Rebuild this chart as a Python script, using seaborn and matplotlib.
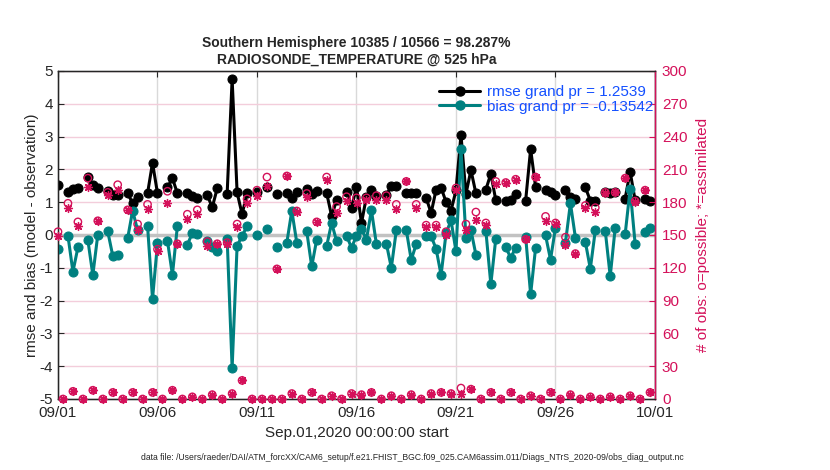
import numpy as np
import pandas as pd
import seaborn as sns
import matplotlib
matplotlib.use("Agg")
import matplotlib.pyplot as plt
import matplotlib.dates as mdates
from matplotlib.lines import Line2D

nan = np.nan

# 6-hourly bins, 09/01 00Z .. 09/30 18Z
rmse = [1.52, nan, 1.32, 1.39, 1.44, nan, 1.76, 1.52, 1.44, nan, 1.34, 1.22,
        1.22, nan, 1.27, 0.97, 1.17, nan, 1.27, 2.20, 1.27, nan, 1.45, 1.73,
        1.27, nan, 1.28, 1.20, 1.14, nan, 1.22, 0.84, 1.42, nan, 1.26, 4.75,
        1.30, 0.63, 1.27, nan, 1.30, nan, 1.47, nan, 1.24, nan, 1.27, 1.12,
        1.30, nan, 1.41, 1.26, 1.35, nan, 1.28, 0.58, 1.06, nan, 1.32, 0.83,
        1.47, 0.36, 1.17, 1.37, 1.20, nan, 1.22, 1.49, 1.48, nan, 1.28, 1.28,
        1.28, nan, 1.13, 0.67, 1.38, 1.44, 1.01, 0.74, 1.36, 3.05, 1.25, 1.98,
        1.27, nan, 1.38, 1.87, 1.06, nan, 1.03, 1.07, 1.26, nan, 1.05, 2.62,
        1.46, nan, 1.37, 1.32, 1.21, nan, 1.38, 1.17, 1.09, nan, 1.45, 1.05,
        1.05, nan, 1.30, 1.29, 1.30, nan, 1.11, 1.93, 1.06, nan, 1.11, 1.04]

bias = [-0.44, nan, -0.02, -1.12, -0.38, nan, -0.15, -1.22, 0.01, nan, 0.11, -0.63,
        -0.61, nan, -0.10, 0.74, 0.15, nan, 0.28, -1.95, -0.25, nan, -0.17, -1.22,
        0.28, nan, -0.30, 0.06, 0.03, nan, -0.18, -0.38, -0.50, nan, -0.11, -4.05,
        -0.33, -0.03, 0.27, nan, 0.01, nan, 0.18, nan, -0.38, nan, -0.23, 0.74,
        -0.24, nan, 0.11, -0.96, -0.14, nan, -0.34, 0.37, -0.19, nan, -0.02, -0.39,
        -0.02, 0.19, -0.14, 0.76, -0.28, nan, -0.26, -1.00, 0.14, nan, 0.16, -0.76,
        -0.28, nan, -0.02, -0.04, -0.42, -1.22, 0.05, 0.45, -0.50, 2.62, -0.08, 0.15,
        -0.60, nan, 0.13, -1.50, -0.11, nan, -0.38, -0.69, -0.39, nan, -0.05, -1.81,
        -0.39, nan, -0.01, -0.75, 0.22, nan, -0.24, 0.97, -0.08, nan, -0.21, -1.03,
        0.14, nan, 0.13, -1.26, 0.22, nan, 0.02, 1.40, -0.26, nan, 0.09, 0.22]

n_poss = [153, 0, 179, 7, 162, 0, 202, 8, 163, 0, 189, 6,
          196, 0, 173, 6, 160, 0, 178, 6, 137, 0, 190, 8,
          142, 0, 169, 2, 173, 0, 144, 4, 142, 0, 143, 5,
          160, 17, 183, 0, 191, 0, 203, 0, 119, 0, 204, 5,
          172, 0, 188, 6, 162, 0, 203, 3, 176, 0, 185, 5,
          184, 4, 184, 6, 186, 0, 186, 3, 178, 0, 199, 4,
          178, 0, 159, 5, 159, 6, 153, 5, 193, 10, 160, 9,
          171, 0, 161, 6, 199, 0, 198, 6, 201, 0, 146, 3,
          203, 0, 167, 6, 161, 0, 148, 4, 133, 0, 177, 2,
          175, 0, 189, 2, 189, 0, 202, 3, 181, 0, 191, 6]

n_used = [149, 0, 175, 7, 158, 0, 194, 8, 163, 0, 187, 6,
          191, 0, 173, 6, 155, 0, 174, 6, 135, 0, 179, 8,
          142, 0, 165, 2, 169, 0, 140, 4, 142, 0, 142, 5,
          157, 17, 179, 0, 186, 0, 195, 0, 119, 0, 204, 5,
          171, 0, 185, 6, 162, 0, 200, 3, 170, 0, 181, 5,
          179, 4, 182, 6, 182, 0, 182, 3, 174, 0, 199, 4,
          175, 0, 157, 5, 157, 6, 150, 5, 191, 5, 155, 9,
          164, 0, 159, 6, 197, 0, 198, 6, 200, 0, 146, 3,
          203, 0, 163, 6, 160, 0, 141, 4, 133, 0, 175, 2,
          171, 0, 188, 2, 189, 0, 202, 3, 180, 0, 191, 6]

tick_days = [1, 6, 11, 16, 21, 26]

df = pd.DataFrame({
    "time": pd.date_range("2020-09-01", periods=len(rmse), freq="6h"),
    "rmse": rmse, "bias": bias, "possible": n_poss, "assimilated": n_used,
})
df["seg"] = df["rmse"].isna().cumsum()   # break the lines where there is no data

teal = "#008080"
crimson = "#d4115a"
blue = "#1450ff"

sns.set_style("white")
plt.rcParams["font.family"] = ["Liberation Sans", "DejaVu Sans"]
plt.rcParams["axes.unicode_minus"] = False

fig = plt.figure(figsize=(8.3, 4.7), dpi=100)
ax = fig.add_axes([58 / 830, 1 - 399 / 470, 597 / 830, 328 / 470])

ax.axhline(0, color="#c2c2c2", lw=2.5, zorder=1.5)
sns.lineplot(data=df, x="time", y="rmse", units="seg", estimator=None, ax=ax,
             color="black", marker="o", markersize=6.5, markeredgecolor="black",
             linewidth=2.2, zorder=3)
sns.lineplot(data=df, x="time", y="bias", units="seg", estimator=None, ax=ax,
             color=teal, marker="o", markersize=6.5, markeredgecolor=teal,
             linewidth=2.2, zorder=3)

ax.set_xlim(pd.Timestamp("2020-09-01"), pd.Timestamp("2020-10-01"))
ax.set_ylim(-5, 5)
ax.set_yticks(range(-5, 6))
ax.xaxis.set_major_locator(mdates.DayLocator(bymonthday=tick_days))
ax.xaxis.set_major_formatter(mdates.DateFormatter("%m/%d"))
ax.set_axisbelow(True)
ax.yaxis.grid(True, color="#f3cddb", lw=1)
ax.xaxis.grid(True, color="#d9d9d9", lw=1)
ax.tick_params(direction="in", top=True, right=False, length=4, labelsize=11, pad=5)
ax.tick_params(axis="y", pad=3.5)
for s in ax.spines.values():
    s.set_color("black")
    s.set_linewidth(1)
ax.set_xlabel("Sep.01,2020 00:00:00 start", fontsize=11, labelpad=4)
ax.set_ylabel("rmse and bias (model - observation)", fontsize=11, labelpad=0.5)
ax.set_title("Southern Hemisphere 10385 / 10566 = 98.287%\nRADIOSONDE_TEMPERATURE @ 525 hPa",
             fontsize=10, fontweight="bold", pad=5, linespacing=1.25)

ax2 = ax.twinx()
sns.scatterplot(data=df, x="time", y="possible", ax=ax2, marker="o", s=28,
                facecolor="none", edgecolor=crimson, linewidth=1, clip_on=False, zorder=4)
sns.scatterplot(data=df, x="time", y="assimilated", ax=ax2, marker=(8, 2, 0), s=32,
                color=crimson, edgecolor=crimson, linewidth=1, clip_on=False, zorder=4)
ax2.set_ylim(0, 300)
ax2.set_yticks(range(0, 301, 30))
ax2.tick_params(direction="in", colors=crimson, length=4, labelsize=11, pad=5)
ax2.spines["right"].set_color(crimson)
ax2.spines["right"].set_linewidth(1)
ax2.set_xlabel("")
ax2.set_ylabel("# of obs: o=possible; *=assimilated", color=crimson, fontsize=11, labelpad=6)

handles = [Line2D([], [], color="black", marker="o", ms=6.5, lw=2.2),
           Line2D([], [], color=teal, marker="o", ms=6.5, lw=2.2)]
ax2.legend(handles, ["rmse grand pr = 1.2539", "bias grand pr = -0.13542"],
           loc="upper right", bbox_to_anchor=(0.999, 0.962), frameon=False,
           fontsize=11, labelcolor=blue, handlelength=2.7, handletextpad=0.4,
           labelspacing=0.05, borderaxespad=0.0, borderpad=0.1)

fig.text(0.497, 0.027,
         "data file: /Users/raeder/DAI/ATM_forcXX/CAM6_setup/f.e21.FHIST_BGC.f09_025.CAM6assim.011/Diags_NTrS_2020-09/obs_diag_output.nc",
         ha="center", va="center", fontsize=6.2)

fig.savefig("out.png", dpi=100)
